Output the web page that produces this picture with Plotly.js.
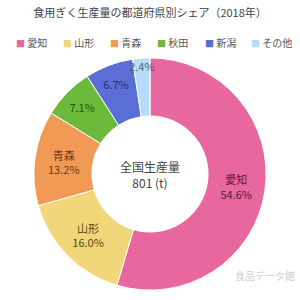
<!DOCTYPE html>
<html><head><meta charset="utf-8">
<script src="https://cdn.plot.ly/plotly-3.0.1.min.js"></script>
<style>html,body{margin:0;padding:0;background:#fff}#c{width:300px;height:300px}</style>
</head><body><div id="c"></div>
<script>
const categories = ["愛知", "山形", "青森", "秋田", "新潟", "その他"];
const shares = [54.6, 16.0, 13.2, 7.1, 6.7, 2.4];
const sliceColors = ["#e8679f", "#f2d67a", "#f09a55", "#6cba3a", "#5b6ed6", "#b7dcf8"];
const textColors = ["#5a1840", "#5a4810", "#6a3810", "#2a5010", "#22307a", "#506070"];
const titleText = "食用ぎく生産量の都道府県別シェア（2018年）";
const centerText = "全国生産量<br>801 (t)";
const watermark = "食品データ館";

const texts = shares.map((v, i) => (v >= 10 ? categories[i] + "<br>" : "") + v.toFixed(1) + "%");

const font = "'Noto Sans CJK JP', 'Noto Sans', sans-serif";

// legend drawn as a single row of annotations
const legendX = [14, 61, 108, 155, 203, 249];
const legendAnn = categories.map((c, i) => ({
  text: "<span style='color:" + sliceColors[i] + ";font-size:9px'>■</span> " + c,
  showarrow: false, xref: "paper", yref: "paper",
  x: legendX[i] / 300, xanchor: "left", y: 1 - 43 / 300, yanchor: "middle",
  font: {size: 10, color: "#555", family: font}
}));

Plotly.newPlot("c", [{
  type: "pie",
  labels: categories,
  values: shares,
  text: texts,
  textinfo: "text",
  textposition: "inside",
  insidetextorientation: "horizontal",
  insidetextfont: {color: textColors, size: 11, family: font},
  marker: {colors: sliceColors, line: {color: "#ffffff", width: 1}},
  hole: 0.5,
  sort: false,
  direction: "clockwise",
  rotation: 0,
  domain: {x: [0.1, 0.9], y: [0.033, 0.807]},
  hoverinfo: "none"
}], {
  width: 300, height: 300,
  margin: {l: 0, r: 0, t: 0, b: 0},
  paper_bgcolor: "#ffffff",
  font: {family: font, color: "#444"},
  uniformtext: {mode: "show", minsize: 11},
  title: {text: titleText, font: {size: 11, color: "#444", family: font}, x: 0.5, xanchor: "center", y: 0.955, yanchor: "middle"},
  showlegend: false,
  annotations: legendAnn.concat([
    {text: centerText, showarrow: false, x: 0.5, y: 0.42, xref: "paper", yref: "paper",
     font: {size: 12, color: "#444", family: font}},
    {text: watermark, showarrow: false, x: 0.99, y: 0.05, xref: "paper", yref: "paper", xanchor: "right",
     font: {size: 10, color: "#d0d0d0", family: font}}
  ])
}, {staticPlot: true});
</script></body></html>
